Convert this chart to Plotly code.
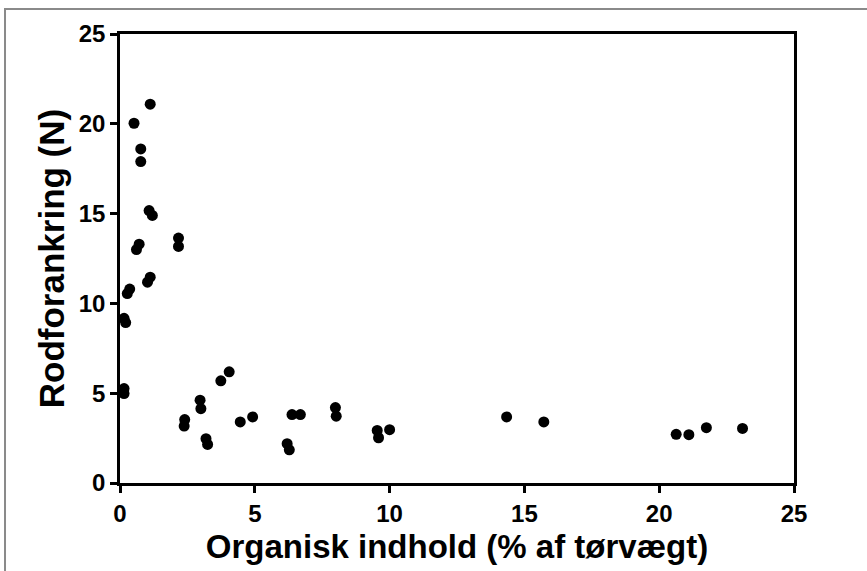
import plotly.graph_objects as go

organic = [1.12, 0.52, 0.77, 0.77, 1.08, 1.20, 0.71, 0.61, 2.17, 2.17,
           1.12, 1.02, 0.36, 0.27, 0.15, 0.21, 0.15, 0.15, 2.40, 2.38,
           2.97, 3.00, 3.19, 3.25, 3.74, 4.05, 4.46, 4.92, 6.20, 6.28,
           6.38, 6.69, 7.99, 8.02, 9.54, 9.59, 10.00, 14.34, 15.72, 20.63,
           21.10, 21.75, 23.09]
anchoring = [21.09, 20.03, 18.60, 17.90, 15.17, 14.90, 13.30, 13.00, 13.64, 13.17,
             11.46, 11.18, 10.80, 10.55, 9.17, 8.93, 5.26, 4.98, 3.53, 3.17,
             4.61, 4.14, 2.47, 2.15, 5.69, 6.19, 3.40, 3.68, 2.19, 1.85,
             3.81, 3.81, 4.20, 3.72, 2.93, 2.52, 2.97, 3.68, 3.40, 2.71,
             2.69, 3.08, 3.04]

x_ticks = [0, 5, 10, 15, 20, 25]
y_ticks = [0, 5, 10, 15, 20, 25]

font_family = "Liberation Sans, Arial, sans-serif"

fig = go.Figure()
fig.add_trace(go.Scatter(
    x=organic, y=anchoring, mode="markers",
    marker=dict(color="black", size=11, line=dict(width=0)),
    showlegend=False,
))

axis_common = dict(
    showline=True, linecolor="black", linewidth=2.7, mirror=True,
    ticks="outside", ticklen=7, tickwidth=2.5, tickcolor="black",
    showgrid=False, zeroline=False,
    tickfont=dict(family=font_family, size=24, color="black", weight="bold"),
)

fig.update_layout(
    width=867, height=571,
    margin=dict(l=120, r=73, t=34, b=88),
    plot_bgcolor="white", paper_bgcolor="white",
    xaxis=dict(range=[0, 25], tickvals=x_ticks,
               title=dict(text="Organisk indhold (% af tørvægt)", standoff=10,
                          font=dict(family=font_family, size=33, color="black", weight="bold")),
               **axis_common),
    yaxis=dict(range=[0, 25], tickvals=y_ticks,
               title=dict(text="Rodforankring (N)", standoff=4,
                          font=dict(family=font_family, size=35, color="black", weight="bold")),
               **axis_common),
    shapes=[dict(type="rect", xref="paper", yref="paper",
                 x0=-0.1706, x1=1.3, y0=-0.4, y1=1.0557,
                 line=dict(color="#8a8a8a", width=2), fillcolor="rgba(0,0,0,0)", layer="below")],
)

fig.write_html("out.html", config={"displayModeBar": False},
               post_script="document.body.style.margin='0';")
